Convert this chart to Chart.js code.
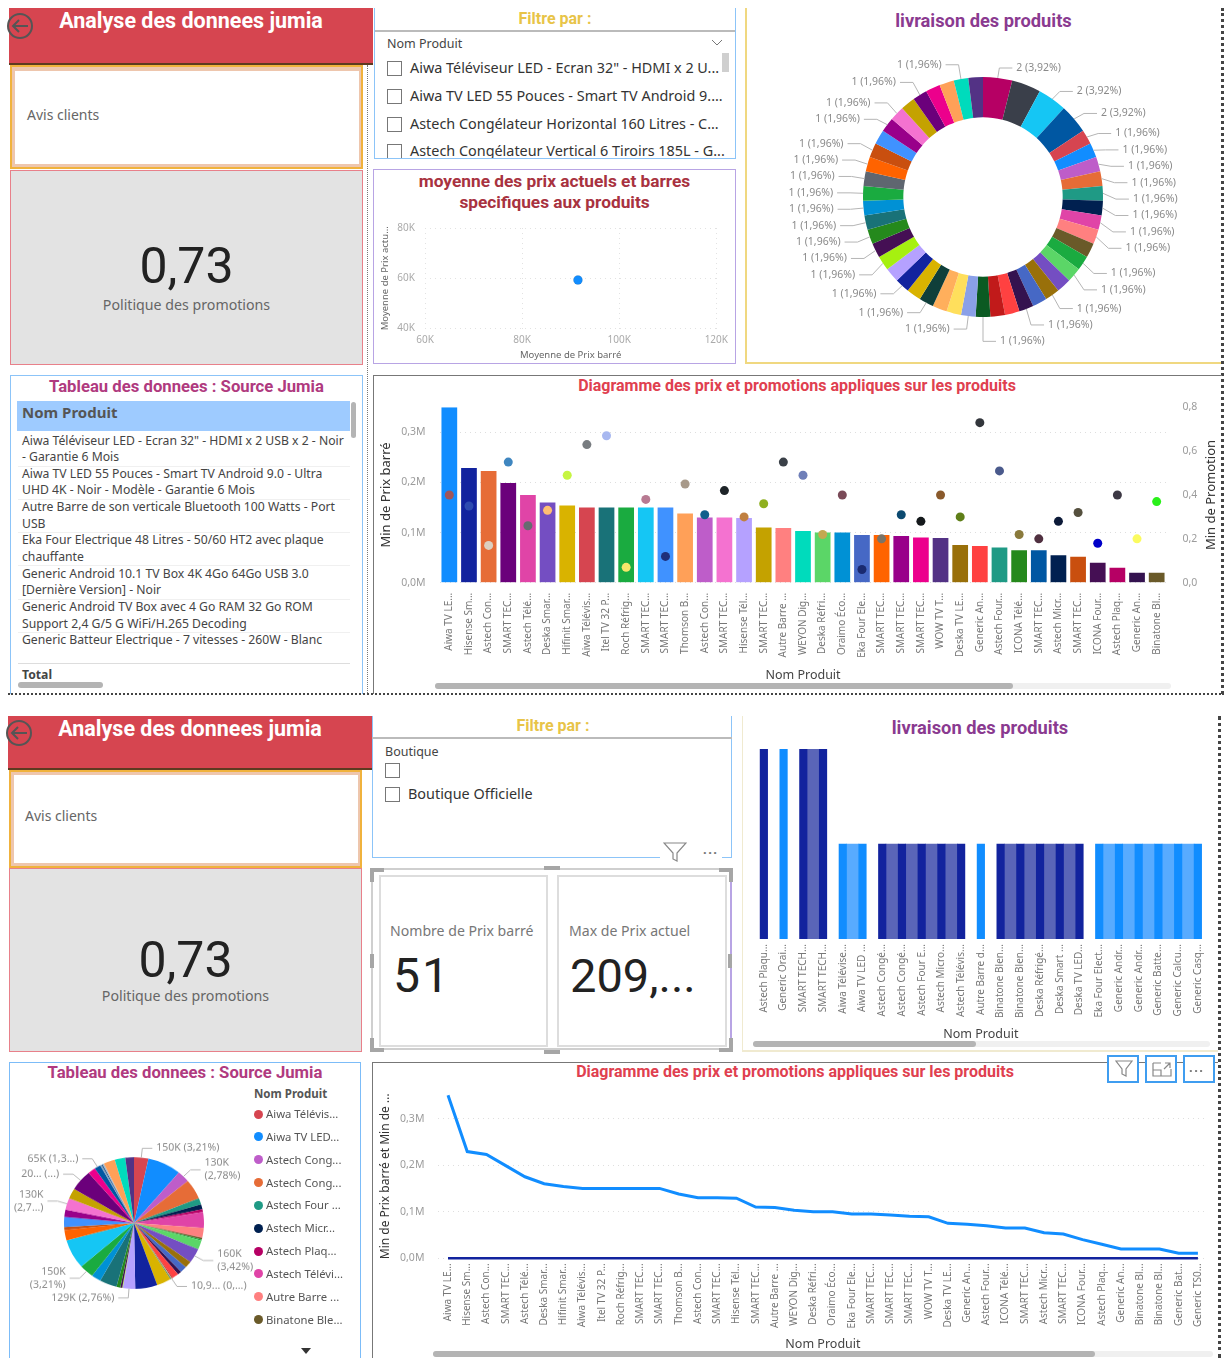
<!DOCTYPE html>
<html lang="fr">
<head>
<meta charset="utf-8">
<title>Analyse des donnees jumia</title>
<script src="https://cdn.jsdelivr.net/npm/chart.js@4"></script>
<style>
html, body { margin: 0; padding: 0; background: #fff; }
#page { position: relative; width: 1224px; height: 1358px; overflow: hidden; font-family: "Noto Sans", sans-serif; color: #444; }
#page div, #page canvas, #page svg { position: absolute; box-sizing: border-box; }
.titre { font-family: Roboto, sans-serif; font-weight: 700; text-align: center; white-space: nowrap; }
.item { font-size: 14.4px; color: #333; white-space: nowrap; }
.case { width: 15px; height: 15px; border: 1.5px solid #777; background: #fff; }
.ligne { font-size: 12.2px; line-height: 16.6px; color: #444; white-space: nowrap; left: 22px; }
.sep { left: 18px; width: 332px; height: 1px; background: #f0f0f0; }
.barre { background: #b4b4b4; border-radius: 3px; }
.piste { background: #f0f0f0; border-radius: 3px; }
.bouton { width: 32px; height: 28px; border: 2px solid #3f9df0; background: #fff; }
.poignee { background: #a6a6a6; }
</style>
</head>
<body>
<div id="page">

  <!-- colonne gauche, haut -->
  <div style="left:9px;top:8px;width:364px;height:57px;background:#d64550;border-bottom:2px solid #5d3a20"></div>
  <svg style="left:7px;top:11px" width="28" height="30"><circle cx="13" cy="15" r="12" fill="none" stroke="#555" stroke-width="2"/><path d="M21 15H6M12 9l-6 6 6 6" fill="none" stroke="#555" stroke-width="2"/></svg>
  <div class="titre" style="left:9px;top:8px;width:364px;font-size:21.5px;line-height:25px;color:#fff">Analyse des donnees jumia</div>
  <div style="left:10px;top:65px;width:353px;height:104px;background:#eec6ad;border:2px solid #f0b23c"></div>
  <div style="left:15px;top:71px;width:344px;height:93px;background:#fff"></div>
  <div style="left:27px;top:105px;font-size:14px;color:#666">Avis clients</div>
  <div style="left:10px;top:170px;width:353px;height:195px;background:#e3e3e3;border:1.5px solid #e8808a"></div>
  <div style="left:10px;top:234px;width:353px;text-align:center;font-family:Roboto;font-size:50px;line-height:64px;color:#222">0,73</div>
  <div style="left:10px;top:295px;width:353px;text-align:center;font-size:14.2px;color:#666">Politique des promotions</div>

  <!-- filtre nom produit -->
  <div style="left:374px;top:8px;width:362px;height:151px;border:1.5px solid #8cc4f8;border-top:none;overflow:hidden">
    <div class="titre" style="left:0;top:1px;width:360px;font-size:16px;line-height:20px;color:#e8c448">Filtre par :</div>
    <div style="left:0;top:22px;width:360px;height:2px;background:#bbb"></div>
    <div style="left:12px;top:27px;font-size:12.5px;color:#444">Nom Produit</div>
    <svg style="left:336px;top:31px" width="12" height="8"><path d="M1 1l5 5 5-5" fill="none" stroke="#777"/></svg>
    <div id="filtreListe" style="left:0;top:0;width:360px;height:151px"></div>
    <div style="left:347px;top:45px;width:7px;height:19px;background:#cfcfcf"></div>
  </div>

  <!-- nuage de points -->
  <div style="left:373px;top:169px;width:363px;height:195px;border:1.5px solid #b8a4e4"></div>
  <div class="titre" style="left:373px;top:171px;width:363px;font-size:17.3px;line-height:21px;color:#a83240">moyenne des prix actuels et barres<br>specifiques aux produits</div>
  <canvas id="nuageChart" width="358" height="150" style="left:376px;top:212px"></canvas>

  <!-- anneau livraison -->
  <div style="left:745px;top:8px;width:476px;height:356px;border-left:2px solid #f0d880;border-bottom:2px solid #f0d880"></div>
  <div class="titre" style="left:745px;top:9px;width:477px;font-size:18.3px;line-height:23px;color:#8a3a90">livraison des produits</div>
  <canvas id="anneauChart" width="470" height="340" style="left:748px;top:27px"></canvas>
  <div style="left:1221px;top:8px;width:3px;height:686px;border-right:3px dotted #444"></div>

  <!-- tableau -->
  <div style="left:10px;top:375px;width:353px;height:319px;border:1.5px solid #8cc4f8;border-bottom:none"></div>
  <div class="titre" style="left:10px;top:376px;width:353px;font-size:16.7px;line-height:22px;color:#b03a7f">Tableau des donnees : Source Jumia</div>
  <div style="left:17px;top:401px;width:333px;height:30px;background:#9ecbff"></div>
  <div style="left:22px;top:402px;font-size:15px;font-weight:700;color:#555">Nom Produit</div>
  <div id="tableLignes" style="left:0;top:0;width:360px;height:660px"></div>
  <div style="left:18px;top:663px;width:332px;height:1px;background:#ddd"></div>
  <div style="left:22px;top:666px;font-size:12.2px;font-weight:700;color:#444">Total</div>
  <div class="barre" style="left:351px;top:402px;width:5px;height:36px"></div>
  <div class="barre" style="left:18px;top:682px;width:85px;height:6px"></div>

  <!-- barres et promotions -->
  <div style="left:373px;top:375px;width:849px;height:319px;border:1.5px solid #777;border-bottom:none;border-right:none"></div>
  <div class="titre" style="left:373px;top:376px;width:848px;font-size:16px;line-height:20px;color:#e0404f">Diagramme des prix et promotions appliques sur les produits</div>
  <canvas id="mixteChart" width="837" height="298" style="left:378px;top:387px"></canvas>
  <div style="left:1110px;top:487px;width:200px;text-align:center;font-size:13px;line-height:16px;color:#333;transform:rotate(-90deg)">Min de Promotion</div>
  <div class="piste" style="left:435px;top:683px;width:736px;height:6px"></div>
  <div class="barre" style="left:435px;top:683px;width:578px;height:6px"></div>
  <div style="left:8px;top:693px;width:1216px;height:2px;border-top:2px dotted #444"></div>
  <div style="left:367px;top:65px;width:1px;height:628px;border-left:1px dotted #777"></div>

  <!-- colonne gauche, bas -->
  <div style="left:8px;top:716px;width:364px;height:54px;background:#d64550;border-bottom:2px solid #5d3a20"></div>
  <svg style="left:6px;top:718px" width="28" height="30"><circle cx="13" cy="15" r="12" fill="none" stroke="#555" stroke-width="2"/><path d="M21 15H6M12 9l-6 6 6 6" fill="none" stroke="#555" stroke-width="2"/></svg>
  <div class="titre" style="left:8px;top:716px;width:364px;font-size:21.5px;line-height:25px;color:#fff">Analyse des donnees jumia</div>
  <div style="left:9px;top:770px;width:353px;height:98px;background:#eec6ad;border:2px solid #f0b23c"></div>
  <div style="left:14px;top:775px;width:344px;height:88px;background:#fff"></div>
  <div style="left:25px;top:806px;font-size:14px;color:#666">Avis clients</div>
  <div style="left:9px;top:868px;width:353px;height:184px;background:#e3e3e3;border:1.5px solid #e8808a"></div>
  <div style="left:9px;top:928px;width:353px;text-align:center;font-family:Roboto;font-size:50px;line-height:64px;color:#222">0,73</div>
  <div style="left:9px;top:986px;width:353px;text-align:center;font-size:14.2px;color:#666">Politique des promotions</div>

  <!-- filtre boutique -->
  <div style="left:372px;top:716px;width:360px;height:142px;border:1.5px solid #8cc4f8;border-top:none"></div>
  <div class="titre" style="left:372px;top:716px;width:362px;font-size:16px;line-height:20px;color:#e8c448">Filtre par :</div>
  <div style="left:372px;top:737px;width:360px;height:2px;background:#bbb"></div>
  <div style="left:385px;top:743px;font-size:12.5px;color:#444">Boutique</div>
  <div class="case" style="left:385px;top:763px"></div>
  <div class="case" style="left:385px;top:787px"></div>
  <div class="item" style="left:408px;top:784px">Boutique Officielle</div>
  <div style="left:660px;top:850px;width:62px;height:12px;background:#fff"></div>
  <svg style="left:663px;top:842px" width="24" height="20"><path d="M1 1h22l-9 10v8l-4-2v-6z" fill="#fff" stroke="#888" stroke-width="1.2"/></svg>
  <div style="left:703px;top:842px;font-size:13px;letter-spacing:1.5px;line-height:14px;color:#777;font-weight:700">...</div>

  <!-- cartes -->
  <div style="left:371px;top:868px;width:361px;height:182px;border:2px solid #cfcfcf;border-right:2px solid #b8a4e4"></div>
  <div style="left:379px;top:875px;width:169px;height:172px;border:2px solid #ddd"></div>
  <div style="left:557px;top:875px;width:170px;height:172px;border:2px solid #ddd"></div>
  <div class="poignee" style="left:370px;top:868px;width:14px;height:4px"></div><div class="poignee" style="left:370px;top:868px;width:4px;height:14px"></div>
  <div class="poignee" style="left:719px;top:868px;width:14px;height:4px"></div><div class="poignee" style="left:729px;top:868px;width:4px;height:14px"></div>
  <div class="poignee" style="left:370px;top:1048px;width:14px;height:4px"></div><div class="poignee" style="left:370px;top:1038px;width:4px;height:14px"></div>
  <div class="poignee" style="left:719px;top:1048px;width:14px;height:4px"></div><div class="poignee" style="left:729px;top:1038px;width:4px;height:14px"></div>
  <div class="poignee" style="left:544px;top:866px;width:16px;height:4px"></div><div class="poignee" style="left:544px;top:1050px;width:16px;height:4px"></div>
  <div class="poignee" style="left:370px;top:954px;width:4px;height:14px"></div><div class="poignee" style="left:728px;top:954px;width:4px;height:14px"></div>
  <div style="left:390px;top:921px;font-size:14.1px;color:#777;white-space:nowrap">Nombre de Prix barré</div>
  <div style="left:393px;top:945px;font-family:Roboto;font-size:48px;line-height:62px;color:#222;letter-spacing:2px">51</div>
  <div style="left:569px;top:921px;font-size:14.1px;color:#777;white-space:nowrap">Max de Prix actuel</div>
  <div style="left:570px;top:945px;font-family:Roboto;font-size:47px;line-height:62px;color:#222">209,...</div>

  <!-- barres livraison -->
  <div style="left:742px;top:716px;width:476px;height:336px;border-left:1.5px solid #f0ead0;border-bottom:2px solid #f0ead0"></div>
  <div class="titre" style="left:742px;top:716px;width:476px;font-size:18.3px;line-height:23px;color:#8a3a90">livraison des produits</div>
  <canvas id="livraisonChart" width="467" height="302" style="left:748px;top:740px"></canvas>
  <div class="piste" style="left:753px;top:1041px;width:457px;height:6px"></div>
  <div class="barre" style="left:753px;top:1041px;width:223px;height:6px"></div>
  <div style="left:1218px;top:716px;width:3px;height:642px;border-right:3px dotted #444"></div>

  <!-- camembert -->
  <div style="left:9px;top:1062px;width:352px;height:296px;border:1.5px solid #7cbcf8;border-bottom:none"></div>
  <div class="titre" style="left:9px;top:1062px;width:352px;font-size:16.7px;line-height:22px;color:#b03a7f">Tableau des donnees : Source Jumia</div>
  <canvas id="camembertChart" width="248" height="200" style="left:10px;top:1123px;transform:scaleY(0.94)"></canvas>
  <div style="left:254px;top:1086px;font-size:11.5px;font-weight:700;color:#555;white-space:nowrap">Nom Produit</div>
  <div id="legendeCamembert" style="left:0;top:0;width:360px;height:1340px"></div>
  <svg style="left:300px;top:1347px" width="12" height="8"><path d="M1 1h10l-5 6z" fill="#333"/></svg>

  <!-- courbes -->
  <div style="left:372px;top:1062px;width:846px;height:296px;border:1.5px solid #777;border-bottom:none;border-right:none"></div>
  <div class="titre" style="left:372px;top:1062px;width:846px;font-size:16px;line-height:20px;color:#e0404f">Diagramme des prix et promotions appliques sur les produits</div>
  <canvas id="ligneChart" width="837" height="278" style="left:378px;top:1074px"></canvas>
  <div class="piste" style="left:433px;top:1351px;width:780px;height:6px"></div>
  <div class="barre" style="left:433px;top:1351px;width:662px;height:6px"></div>
  <div class="bouton" style="left:1107px;top:1055px"><svg style="left:6px;top:3px" width="18" height="18"><path d="M1 1h16l-6 8v7l-4-2v-5z" fill="none" stroke="#888" stroke-width="1.2"/></svg></div>
  <div class="bouton" style="left:1145px;top:1055px"><svg style="left:5px;top:3px" width="20" height="18"><path d="M1 3h8M1 3v13h18v-7M1 10h8v6M12 9l6-6M13 3h5v5" fill="none" stroke="#888" stroke-width="1.2"/></svg></div>
  <div class="bouton" style="left:1183px;top:1055px"><div style="left:4px;top:3px;font-size:13px;letter-spacing:1.5px;line-height:14px;color:#777;font-weight:700">...</div></div>
</div>

<script>
// nuage de points
const nuageX = [91500];
const nuageY = [59300];

// anneau : livraison des produits
const anneauValeurs = [2,2,2,2,1,1,1,1,1,1,1,1,1,1,1,1,1,1,1,1,1,1,1,1,1,1,1,1,1,1,1,1,1,1,1,1,1,1,1,1,1,1,1,1,1,1,1];
const anneauCouleurs = ["#b60064","#3a3f4a","#15c6f4","#0057a2","#d64550","#118dff","#be5dc9","#e66c37","#1f9a85","#002050",
    "#e044a7","#ff8080","#6a5a29","#1aab40","#5bd667","#744ec2","#99700a","#4668c5","#34124f","#ff4141",
    "#c11a1a","#0b5a22","#8aa0e8","#ffdf5c","#ffaf5c","#0f3f3a","#d9b300","#12239e","#b5a1ff","#a6f010",
    "#450f54","#25891c","#197278","#0091d5","#1aab40","#5f6670","#ff6300","#c94f0f","#4092ff","#99008a",
    "#f472d0","#c4a200","#6b007b","#ec008c","#ffa058","#00dbbc","#533285"];
const anneauEtiquettes = {
    0:"2 (3,92%)", 2:"2 (3,92%)", 3:"2 (3,92%)", 4:"1 (1,96%)", 5:"1 (1,96%)", 6:"1 (1,96%)", 7:"1 (1,96%)", 8:"1 (1,96%)",
    9:"1 (1,96%)", 10:"1 (1,96%)", 11:"1 (1,96%)", 13:"1 (1,96%)", 14:"1 (1,96%)", 16:"1 (1,96%)", 18:"1 (1,96%)", 21:"1 (1,96%)",
    22:"1 (1,96%)", 25:"1 (1,96%)", 27:"1 (1,96%)", 29:"1 (1,96%)", 30:"1 (1,96%)", 31:"1 (1,96%)", 32:"1 (1,96%)", 33:"1 (1,96%)",
    34:"1 (1,96%)", 35:"1 (1,96%)", 36:"1 (1,96%)", 37:"1 (1,96%)", 39:"1 (1,96%)", 40:"1 (1,96%)", 42:"1 (1,96%)", 45:"1 (1,96%)"
};

// barres et promotions
const produitsMixte = ["Aiwa TV LE...","Hisense Sm...","Astech Con...","SMART TEC...","Astech Télé...","Deska Smar...","Hifinit Smar...","Aiwa Télévis...","Itel TV 32 P...","Roch Réfrig...",
    "SMART TEC...","SMART TEC...","Thomson B...","Astech Con...","SMART TEC...","Hisense Tél...","SMART TEC...","Autre Barre ...","WEYON Dig...","Deska Réfri...",
    "Oraimo Éco...","Eka Four Ele...","SMART TEC...","SMART TEC...","SMART TEC...","WOW TV T...","Deska TV LE...","Generic An...","Astech Four...","ICONA Télé...",
    "SMART TEC...","Astech Micr...","SMART TEC...","ICONA Four...","Astech Plaq...","Generic An...","Binatone Bl..."];
const prixBarre = [350000,229000,223000,199000,175000,160000,154000,150000,150000,150000,
    150000,150000,138000,130000,130000,129000,110000,109000,103000,100000,
    100000,95000,95000,93000,90000,89000,75000,73000,70000,65000,
    65000,55000,52000,40000,30000,20000,20000];
const promotions = [0.40,0.35,0.17,0.55,0.26,0.33,0.49,0.63,0.67,0.07,
    0.38,0.12,0.45,0.31,0.42,0.30,0.36,0.55,0.49,0.22,
    0.40,0.06,0.20,0.31,0.28,0.40,0.30,0.73,0.51,0.22,
    0.20,0.28,0.32,0.18,0.40,0.20,0.37];
const couleursBarres = ["#118dff","#12239e","#e66c37","#6b007b","#e044a7","#744ec2","#d9b300","#d64550","#197278","#1aab40",
    "#15c6f4","#4092ff","#ffa058","#be5dc9","#f472d0","#b5a1ff","#c4a200","#ff8080","#00dbbc","#5bd667",
    "#0091d5","#4668c5","#ff6300","#99008a","#ec008c","#533285","#99700a","#ff4141","#1f9a85","#25891c",
    "#0057a2","#002050","#c94f0f","#450f54","#b60064","#34124f","#6a5a29"];
const couleursPoints = ["#a0555a","#2e4bb0","#dccfc0","#3f86c0","#666b70","#ffbf73","#c6f542","#787c80","#a8b8f0","#f5e66a",
    "#b87a92","#1f2f7a","#a89a8a","#0f5f8c","#1e2428","#c08040","#8fb020","#3a4048","#6f7fb8","#c4a850",
    "#7a4a58","#1a2a70","#7a7468","#0c4a70","#15191c","#8a5a2c","#5f7f18","#33363c","#4a5a8c","#8a7a3c",
    "#503040","#0c1a38","#55503e","#0000c8","#3c3844","#fbfb60","#2af01a"];
const graduationsPrix = [0,100000,200000,300000];

// barres livraison
const produitsLivraison = ["Astech Plaqu...","Generic Orai...","SMART TECH...","SMART TECH...","Aiwa Télévise...","Aiwa TV LED ...","Astech Congé...","Astech Congé...","Astech Four E...","Astech Micro...","Astech Télévis...","Autre Barre d...",
    "Binatone Blen...","Binatone Blen...","Deska Réfrigé...","Deska Smart ...","Deska TV LED...","Eka Four Elect...","Generic Andr...","Generic Andr...","Generic Batte...","Generic Calcu...","Generic Casq..."];
const livraisonValeurs = [2,2,2,2,1,1,1,1,1,1,1,1,1,1,1,1,1,1,1,1,1,1,1];
const livraisonCouleurs = ["#12239e","#118dff","#12239e","#12239e","#118dff","#118dff","#12239e","#12239e","#12239e","#12239e","#12239e","#118dff",
    "#12239e","#12239e","#12239e","#12239e","#12239e","#118dff","#118dff","#118dff","#118dff","#118dff","#118dff"];
// bandes claires entre deux barres voisines (24 positions, bords compris)
const bandeValeurs = [null,null,null,2,null,1,null,1,1,1,1,null,null,1,1,1,1,null,1,1,1,1,1,null];
const bandeCouleurs = [null,null,null,"#5a65b8",null,"#58abff",null,"#5a65b8","#5a65b8","#5a65b8","#5a65b8",null,null,"#5a65b8","#5a65b8","#5a65b8","#5a65b8",null,"#58abff","#58abff","#58abff","#58abff","#58abff",null];
const bandePositions = ["b0","b1","b2","b3","b4","b5","b6","b7","b8","b9","b10","b11","b12","b13","b14","b15","b16","b17","b18","b19","b20","b21","b22","b23"];

// camembert
const camembertValeurs = [150,350,130,223,70,55,30,175,109,20,13,100,160,75,70,40,65,11,10,10,150,230,129,6,20,40,180,100,150,325,115,35,110,80,130,115,230,80,65,14,14,14,120,110,90];
const camembertCouleurs = ["#d64550","#118dff","#be5dc9","#e66c37","#1f9a85","#002050","#b60064","#e044a7","#ff8080","#6a5a29","#1aab40","#5bd667","#744ec2","#99700a","#4668c5","#34124f","#ff4141","#c11a1a","#c4a878","#3f8060",
    "#d9b300","#12239e","#b5a1ff","#a6f010","#450f54","#25891c","#197278","#0091d5","#1aab40","#15c6f4","#ff6300","#c94f0f","#4092ff","#99008a","#f472d0","#c4a200","#6b007b","#ec008c","#0057a2","#7ba0c0","#2a5a8a","#a0b8d0","#ffa058","#00dbbc","#533285"];
const camembertEtiquettes = {
    0:["150K (3,21%)"], 2:["130K","(2,78%)"], 12:["160K","(3,42%)"], 18:["10,9... (0,...)"], 22:["129K (2,76%)"],
    28:["150K","(3,21%)"], 34:["130K","(2,7...)"], 36:["20... (...)"], 38:["65K (1,3...)"]
};
const legendeProduits = ["Aiwa Télévis...","Aiwa TV LED...","Astech Cong...","Astech Cong...","Astech Four ...","Astech Micr...","Astech Plaq...","Astech Télévi...","Autre Barre ...","Binatone Ble..."];
const legendeCouleurs = ["#d64550","#118dff","#be5dc9","#e66c37","#1f9a85","#002050","#b60064","#e044a7","#ff8080","#6a5a29"];

// courbes
const produitsLigne = produitsMixte.concat(["Binatone Bl...","Generic Bat...","Generic TS0..."]);
const prixBarreLigne = prixBarre.concat([20000,11000,11000]);
const promotionsLigne = promotions.concat([0.30,0.25,0.20]);

// textes des tableaux
const filtreProduits = ['Aiwa Téléviseur LED - Ecran 32" - HDMI x 2 U...',"Aiwa TV LED 55 Pouces - Smart TV Android 9....","Astech Congélateur Horizontal 160 Litres - C...","Astech Congélateur Vertical 6 Tiroirs 185L - G..."];
const tableLignes = ['Aiwa Téléviseur LED - Ecran 32" - HDMI x 2 USB x 2 - Noir',"- Garantie 6 Mois","Aiwa TV LED 55 Pouces - Smart TV Android 9.0 - Ultra","UHD 4K - Noir - Modèle - Garantie 6 Mois",
    "Autre Barre de son verticale Bluetooth 100 Watts - Port","USB","Eka Four Electrique 48 Litres - 50/60 HT2 avec plaque","chauffante",
    "Generic Android 10.1 TV Box 4K 4Go 64Go USB 3.0","[Dernière Version] - Noir","Generic Android TV Box avec 4 Go RAM 32 Go ROM","Support 2,4 G/5 G WiFi/H.265 Decoding","Generic Batteur Electrique - 7 vitesses - 260W - Blanc"];

Chart.defaults.animation = false;
Chart.defaults.responsive = false;
Chart.defaults.font.family = '"Noto Sans", sans-serif';
Chart.defaults.plugins.legend.display = false;
Chart.defaults.plugins.tooltip.enabled = false;

function enK(v) { return (v / 1000) + "K"; }
function enM(v) { return (v / 1000000).toFixed(1).replace(".", ",") + "M"; }
function virgule(v) { return v.toFixed(1).replace(".", ","); }
function largeurFixe(px) { return function (scale) { scale.width = px; }; }
function hauteurFixe(px) { return function (scale) { scale.height = px; }; }
// avec max + stepSize non entier Chart.js redecoupe les graduations, on les impose
function graduationsFixes(valeurs) {
    return function (scale) { scale.ticks = valeurs.map(v => ({ value: v })); };
}

// leaders et etiquettes autour d'un anneau ou d'un camembert
function etiquettesExternes(textes, radial, horiz, hauteurLigne, ecartMin, decalageDroite, decalageGauche) {
    return {
        id: "etiquettes",
        afterDatasetsDraw(chart) {
            const ctx = chart.ctx;
            const arcs = chart.getDatasetMeta(0).data;
            const pts = [];
            Object.keys(textes).forEach(function (k) {
                const a = arcs[k];
                const mid = (a.startAngle + a.endAngle) / 2;
                const droite = Math.cos(mid) >= -0.01;
                pts.push({
                    lignes: [].concat(textes[k]),
                    droite: droite,
                    x0: a.x + Math.cos(mid) * a.outerRadius,
                    y0: a.y + Math.sin(mid) * a.outerRadius,
                    x1: a.x + Math.cos(mid) * (a.outerRadius + radial),
                    y1: a.y + Math.sin(mid) * (a.outerRadius + radial) + (droite ? decalageDroite : decalageGauche)
                });
            });
            // on ecarte les etiquettes trop proches, de chaque cote
            [true, false].forEach(function (cote) {
                const g = pts.filter(p => p.droite === cote).sort((p, q) => p.y1 - q.y1);
                for (let i = 1; i < g.length; i++) {
                    if (g[i].y1 - g[i - 1].y1 < ecartMin) g[i].y1 = g[i - 1].y1 + ecartMin;
                }
            });
            ctx.save();
            ctx.font = "10.5px " + Chart.defaults.font.family;
            ctx.textBaseline = "middle";
            pts.forEach(function (p) {
                const sens = p.droite ? 1 : -1;
                ctx.strokeStyle = "#b5b5b5";
                ctx.lineWidth = 1;
                ctx.beginPath();
                ctx.moveTo(p.x0, p.y0);
                ctx.lineTo(p.x1, p.y1);
                ctx.lineTo(p.x1 + sens * horiz, p.y1);
                ctx.stroke();
                ctx.fillStyle = "#8a8a8a";
                ctx.textAlign = p.droite ? "left" : "right";
                const y = p.y1 - (p.lignes.length - 1) * hauteurLigne / 2;
                p.lignes.forEach(function (t, i) {
                    ctx.fillText(t, p.x1 + sens * (horiz + 4), y + i * hauteurLigne);
                });
            });
            ctx.restore();
        }
    };
}

// textes html
filtreProduits.forEach(function (t, i) {
    const y = 53 + i * 27.8;
    document.getElementById("filtreListe").insertAdjacentHTML("beforeend",
        '<div class="case" style="left:12px;top:' + y + 'px"></div>' +
        '<div class="item" style="left:35px;top:' + (y - 3) + 'px">' + t + '</div>');
});
tableLignes.forEach(function (t, i) {
    const y = 432.5 + i * 16.65;
    let html = '<div class="ligne" style="top:' + y + 'px">' + t + '</div>';
    if (i % 2 === 1) html += '<div class="sep" style="top:' + (y + 16.4) + 'px"></div>';
    document.getElementById("tableLignes").insertAdjacentHTML("beforeend", html);
});
legendeProduits.forEach(function (t, i) {
    const y = 1114 + i * 22.85;
    document.getElementById("legendeCamembert").insertAdjacentHTML("beforeend",
        '<div style="left:254px;top:' + (y - 4.5) + 'px;width:9px;height:9px;border-radius:50%;background:' + legendeCouleurs[i] + '"></div>' +
        '<div style="left:266px;top:' + (y - 8) + 'px;font-size:11.3px;line-height:16px;color:#555;white-space:nowrap">' + t + '</div>');
});

//Nuage de points
new Chart(document.getElementById("nuageChart"), {
    type: "scatter",
    data: {
        datasets: [{
            data: nuageX.map((x, i) => ({ x: x, y: nuageY[i] })),
            backgroundColor: "#118dff",
            pointRadius: 4.5
        }]
    },
    options: {
        layout: { padding: { top: 1, right: 17 } },
        scales: {
            x: {
                min: 60000, max: 120000,
                ticks: { stepSize: 20000, callback: enK, color: "#aaa", font: { size: 10 }, padding: 6, maxRotation: 0 },
                grid: { color: "#e2e2e2", drawTicks: false },
                border: { display: false, dash: [1, 4] },
                title: { display: true, text: "Moyenne de Prix barré", color: "#666", font: { size: 9.5 }, padding: { top: 2, bottom: 1 } },
                afterFit: hauteurFixe(33.5)
            },
            y: {
                min: 40000, max: 80000,
                ticks: { stepSize: 20000, callback: enK, color: "#aaa", font: { size: 10 }, padding: 10 },
                grid: { color: "#e2e2e2", drawTicks: false },
                border: { display: false, dash: [1, 4] },
                title: { display: true, text: "Moyenne de Prix actu...", color: "#666", font: { size: 9.5 }, padding: { top: 4, bottom: 0 } },
                afterFit: largeurFixe(49)
            }
        }
    }
});

//Anneau
new Chart(document.getElementById("anneauChart"), {
    type: "doughnut",
    data: {
        labels: anneauValeurs.map((v, i) => "p" + i),
        datasets: [{ data: anneauValeurs, backgroundColor: anneauCouleurs, borderWidth: 0, radius: 120 }]
    },
    options: { cutout: "66.4%" },
    plugins: [etiquettesExternes(anneauEtiquettes, 13, 13, 12, 16.4, 3, -1.5)]
});

//Barres et promotions
new Chart(document.getElementById("mixteChart"), {
    data: {
        labels: produitsMixte,
        datasets: [
            {
                type: "line",
                data: promotions,
                yAxisID: "y1",
                showLine: false,
                pointRadius: 4.5,
                pointBorderWidth: 0,
                pointBackgroundColor: couleursPoints,
                order: 1
            },
            {
                type: "bar",
                data: prixBarre,
                yAxisID: "y",
                backgroundColor: couleursBarres,
                categoryPercentage: 1,
                barPercentage: 0.8,
                order: 2
            }
        ]
    },
    options: {
        layout: { padding: { top: 4.7 } },
        scales: {
            x: {
                ticks: { autoSkip: false, minRotation: 90, maxRotation: 90, color: "#777", font: { size: 10 }, padding: 2 },
                grid: { display: false },
                border: { display: false },
                title: { display: true, text: "Nom Produit", color: "#444", font: { size: 12.5 }, padding: { top: 0, bottom: 2 } },
                afterFit: hauteurFixe(102.3)
            },
            y: {
                min: 0, max: 350000,
                ticks: { callback: enM, color: "#9c9c9c", font: { size: 10.5 }, padding: 14 },
                grid: { color: "#dedede", drawTicks: false },
                border: { display: false, dash: [1, 4] },
                title: { display: true, text: "Min de Prix barré", color: "#333", font: { size: 13 }, padding: { top: 0, bottom: 0 } },
                afterBuildTicks: graduationsFixes(graduationsPrix),
                afterFit: largeurFixe(61.5)
            },
            y1: {
                position: "right",
                min: 0, max: 0.8,
                ticks: { stepSize: 0.2, callback: virgule, color: "#9c9c9c", font: { size: 10.5 }, padding: 8 },
                grid: { display: false },
                border: { display: false },
                afterFit: largeurFixe(48.5)
            }
        }
    }
});

//Barres livraison
new Chart(document.getElementById("livraisonChart"), {
    type: "bar",
    data: {
        labels: produitsLivraison,
        datasets: [
            {
                data: livraisonValeurs,
                xAxisID: "x",
                backgroundColor: livraisonCouleurs,
                barThickness: 7.5,
                grouped: false,
                order: 1
            },
            {
                data: bandeValeurs,
                xAxisID: "xBande",
                backgroundColor: bandeCouleurs,
                barThickness: 12.4,
                grouped: false,
                order: 2
            }
        ]
    },
    options: {
        layout: { padding: { top: 9, left: 6, right: 6 } },
        scales: {
            x: {
                ticks: { autoSkip: false, minRotation: 90, maxRotation: 90, color: "#777", font: { size: 10 }, padding: 5 },
                grid: { display: false, drawTicks: false },
                border: { display: false },
                title: { display: true, text: "Nom Produit", color: "#444", font: { size: 12.5 }, padding: { top: 0, bottom: 0 } },
                afterFit: hauteurFixe(103)
            },
            xBande: { type: "category", labels: bandePositions, offset: false, display: false },
            y: { min: 0, max: 2, display: false }
        }
    }
});

//Camembert
new Chart(document.getElementById("camembertChart"), {
    type: "pie",
    data: {
        labels: camembertValeurs.map((v, i) => "p" + i),
        datasets: [{ data: camembertValeurs, backgroundColor: camembertCouleurs, borderWidth: 0, radius: 70 }]
    },
    plugins: [etiquettesExternes(camembertEtiquettes, 10, 10, 14, 12, 0, 0)]
});

//Courbes
new Chart(document.getElementById("ligneChart"), {
    type: "line",
    data: {
        labels: produitsLigne,
        datasets: [
            { data: prixBarreLigne, borderColor: "#118dff", borderWidth: 3, pointRadius: 0, tension: 0, clip: false },
            { data: promotionsLigne, borderColor: "#12239e", borderWidth: 2.5, pointRadius: 0, tension: 0, clip: false }
        ]
    },
    options: {
        layout: { padding: { top: 1.8, right: 7.4 } },
        scales: {
            x: {
                offset: true,
                ticks: { autoSkip: false, minRotation: 90, maxRotation: 90, color: "#777", font: { size: 10 }, padding: 5 },
                grid: { display: false, drawTicks: false },
                border: { display: false },
                title: { display: true, text: "Nom Produit", color: "#444", font: { size: 12.5 }, padding: { top: 0, bottom: 0 } },
                afterFit: hauteurFixe(93.7)
            },
            y: {
                min: 0, max: 352000,
                ticks: { callback: enM, color: "#9c9c9c", font: { size: 10.5 }, padding: 14 },
                grid: { color: "#dedede", drawTicks: false },
                border: { display: false, dash: [1, 4] },
                title: { display: true, text: "Min de Prix barré et Min de ...", color: "#333", font: { size: 12 }, padding: { top: 0, bottom: 0 } },
                afterBuildTicks: graduationsFixes(graduationsPrix),
                afterFit: largeurFixe(60.4)
            }
        }
    }
});
</script>
</body>
</html>
